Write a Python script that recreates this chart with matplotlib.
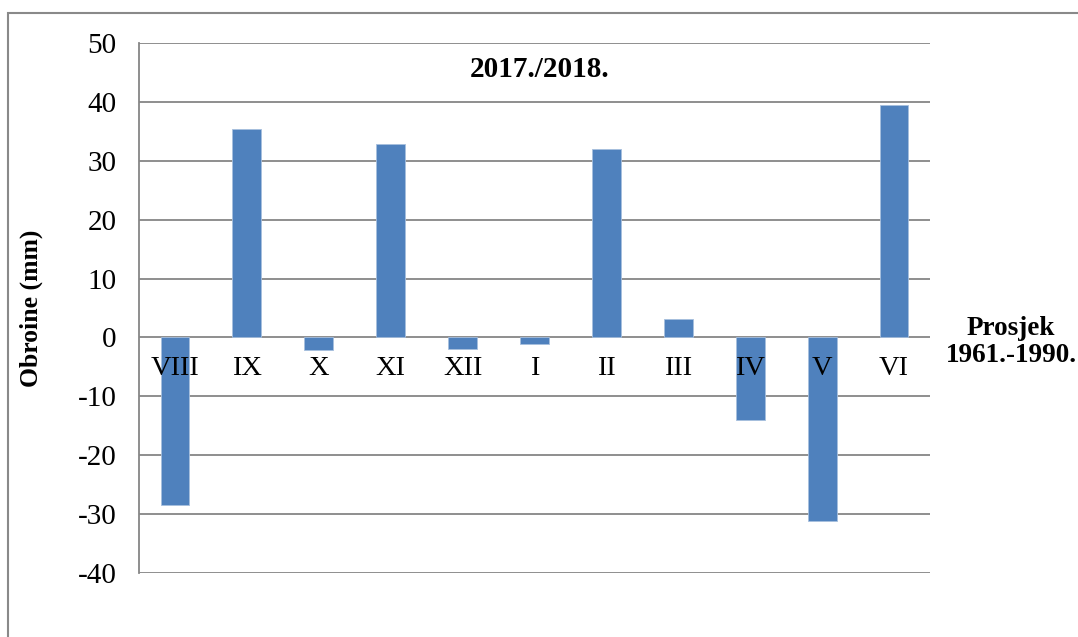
import matplotlib
matplotlib.use("Agg")
import matplotlib.pyplot as plt
from matplotlib.patches import Rectangle

# Month labels and precipitation anomaly vs 1961-1990 mean (mm)
months = ["VIII", "IX", "X", "XI", "XII", "I", "II", "III", "IV", "V", "VI"]
anomaly = [-28.5, 35.4, -2.1, 32.8, -2.0, -1.1, 32.0, 3.1, -14.0, -31.2, 39.5]
y_ticks = [50, 40, 30, 20, 10, 0, -10, -20, -30, -40]

BAR_COLOR = "#4f81bd"
GRID_COLOR = "#868686"

plt.rcParams["font.family"] = ["Liberation Serif", "DejaVu Serif"]

fig = plt.figure(figsize=(10.78, 6.37), dpi=100)
ax = fig.add_axes([139 / 1078, 1 - 573 / 637, (930 - 139) / 1078, (573 - 43) / 637])

x = list(range(len(months)))
ax.bar(x, anomaly, width=0.4, color=BAR_COLOR, edgecolor="#a7bfde", linewidth=0.6, zorder=3)

ax.set_xlim(-0.5, len(months) - 0.5)
ax.set_ylim(-40, 50)
ax.set_yticks(y_ticks)
ax.set_yticklabels([str(v) for v in y_ticks], fontsize=21)
ax.tick_params(axis="y", length=0, pad=16)
ax.set_xticks([])
for v in y_ticks:
    ax.axhline(v, color=GRID_COLOR, linewidth=1.3, zorder=1)

for side in ["top", "right", "bottom"]:
    ax.spines[side].set_visible(False)
ax.spines["left"].set_color(GRID_COLOR)
ax.spines["left"].set_linewidth(1.3)

# category labels sit just under the zero line
for xi, m in zip(x, months):
    ax.text(xi, -5.3, m, ha="center", va="center", fontsize=20.5, zorder=4)

ax.set_ylabel("Obroine (mm)", fontsize=18.5, fontweight="bold")
ax.yaxis.set_label_coords(-0.121, 0.5)

ax.text(0.507, 0.95, "2017./2018.", transform=ax.transAxes, ha="center", va="center",
        fontsize=21, fontweight="bold")

fig.text(1011 / 1078, 1 - 342 / 637, "Prosjek\n1961.-1990.", ha="center", va="center",
         fontsize=19.5, fontweight="bold", linespacing=1.15)

# outer chart border
fig.patches.append(Rectangle((8 / 1078, -0.05), 1.2, 1 - 13 / 637 + 0.05,
                             transform=fig.transFigure, fill=False,
                             edgecolor="#898989", linewidth=1.5))

fig.savefig("out.png", dpi=100)
